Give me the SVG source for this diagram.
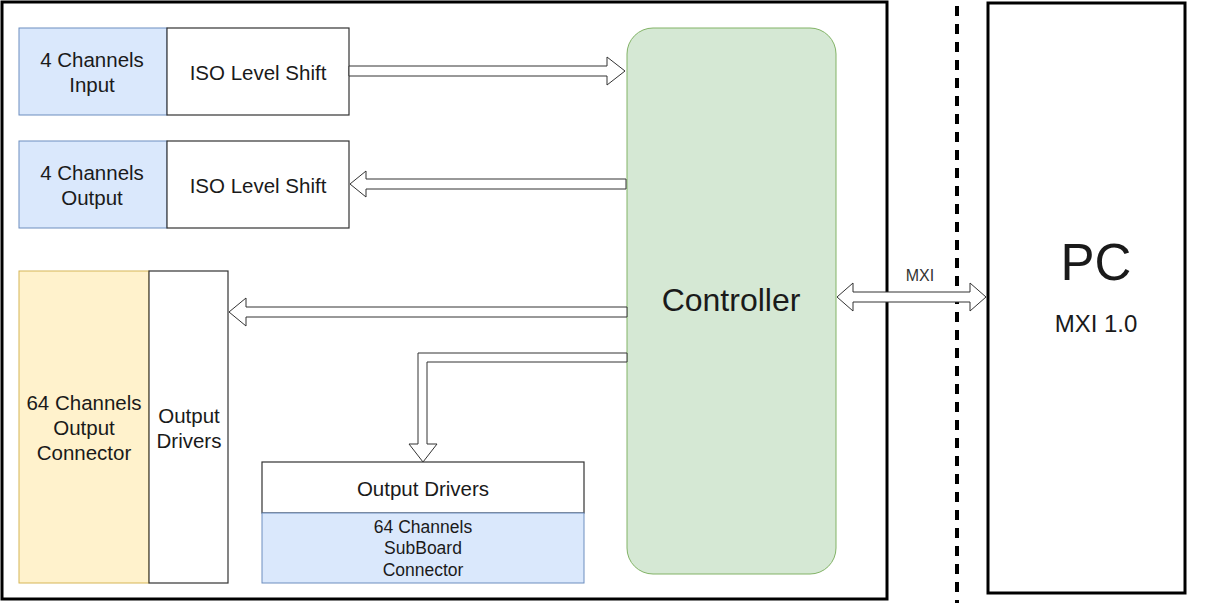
<svg xmlns="http://www.w3.org/2000/svg" width="1228" height="603" viewBox="0 0 1228 603">
<style>
text{font-family:"Liberation Sans",Arial,sans-serif;fill:#1a1a1a;text-anchor:middle;dominant-baseline:central}
.blue{fill:#dae8fc;stroke:#6c8ebf;stroke-width:1}
.white{fill:#ffffff;stroke:#333333;stroke-width:1.2}
.yellow{fill:#fff2cc;stroke:#d6b656;stroke-width:1}
.arrow{fill:#ffffff;stroke:#333333;stroke-width:1;stroke-linejoin:miter}
.t17{font-size:20.5px}
.t14{font-size:17.5px}
</style>
<rect width="1228" height="603" fill="#ffffff"/>
<g id="board"><rect x="2" y="2" width="885" height="597" fill="none" stroke="#000" stroke-width="3"/></g>
<g id="divider"><line x1="957" y1="6" x2="957" y2="603" stroke="#000" stroke-width="4" stroke-dasharray="10 8"/></g>
<g id="pc">
<rect x="988" y="3" width="197" height="590" fill="#fff" stroke="#000" stroke-width="3"/>
<text x="1096" y="262" style="font-size:51px">PC</text>
<text x="1096" y="323" style="font-size:24px">MXI 1.0</text>
</g>
<g id="controller">
<rect x="627" y="28" width="209" height="546" rx="26" ry="26" fill="#d5e8d4" stroke="#82b366" stroke-width="1"/>
<text x="731" y="300" style="font-size:32px">Controller</text>
</g>
<g id="in4">
<rect class="blue" x="19" y="28" width="148" height="87"/>
<text class="t17" x="92" y="59">4 Channels</text>
<text class="t17" x="92" y="84">Input</text>
</g>
<g id="iso1">
<rect class="white" x="167" y="28" width="182" height="87"/>
<text class="t17" x="258" y="72">ISO Level Shift</text>
</g>
<g id="out4">
<rect class="blue" x="19" y="141" width="148" height="87"/>
<text class="t17" x="92" y="172">4 Channels</text>
<text class="t17" x="92" y="197">Output</text>
</g>
<g id="iso2">
<rect class="white" x="167" y="141" width="182" height="87"/>
<text class="t17" x="258" y="185">ISO Level Shift</text>
</g>
<g id="conn64">
<rect class="yellow" x="19" y="271" width="130" height="312"/>
<text class="t17" x="84" y="402">64 Channels</text>
<text class="t17" x="84" y="427">Output</text>
<text class="t17" x="84" y="452">Connector</text>
</g>
<g id="drv1">
<rect class="white" x="149" y="271" width="79" height="312"/>
<text class="t17" x="189" y="415">Output</text>
<text class="t17" x="189" y="440">Drivers</text>
</g>
<g id="drv2">
<rect class="white" x="262" y="462" width="322" height="51"/>
<text class="t17" x="423" y="488">Output Drivers</text>
</g>
<g id="sub64">
<rect class="blue" x="262" y="513" width="322" height="70"/>
<text class="t14" x="423" y="527">64 Channels</text>
<text class="t14" x="423" y="548">SubBoard</text>
<text class="t14" x="423" y="570">Connector</text>
</g>
<g id="connectors">
<path class="arrow" d="M349,66 L607,66 L607,57 L625,71 L607,85 L607,76 L349,76 Z"/>
<path class="arrow" d="M626,179 L366,179 L366,171 L350,184 L366,197 L366,189 L626,189 Z"/>
<path class="arrow" d="M627,307 L246,307 L246,298 L229,312 L246,326 L246,317 L627,317 Z"/>
<path class="arrow" d="M627,353 L418,353 L418,444 L409,444 L423,462 L437,444 L427,444 L427,362 L627,362 Z"/>
<path class="arrow" d="M837,297 L853,283 L853,292 L970,292 L970,283 L986,297 L970,311 L970,302 L853,302 L853,311 Z"/>
<text x="920" y="275" style="font-size:16px;fill:#333">MXI</text>
</g>
</svg>
